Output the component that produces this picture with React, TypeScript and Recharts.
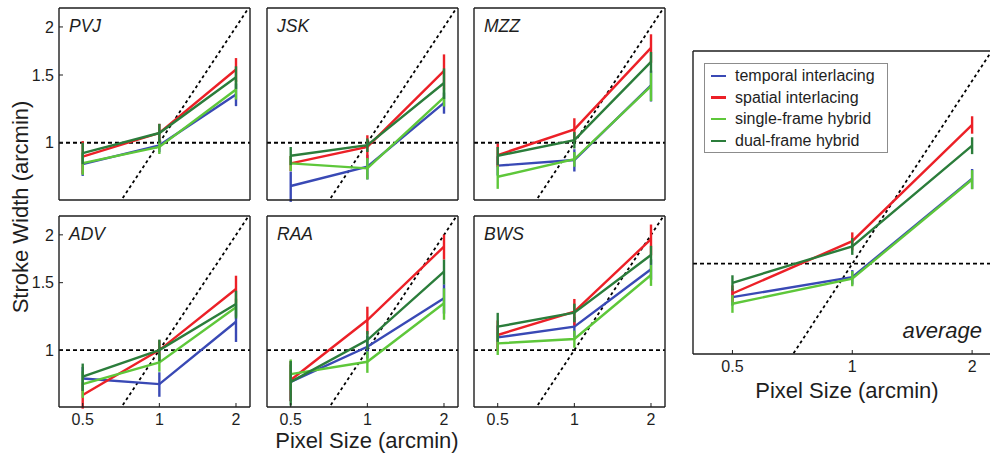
import { ErrorBar, Legend, Line, LineChart, ReferenceLine, XAxis, YAxis } from 'recharts';

const FONT = '"Liberation Sans", Arial, Helvetica, sans-serif';
const INK = '#1e1e1e';

const pixelSizes = [0.5, 1, 2];
const strokeTicks = [1, 1.5, 2];
const seriesNames = ['temporal interlacing', 'spatial interlacing', 'single-frame hybrid', 'dual-frame hybrid'];
const seriesColors = ['#3949b5', '#ec2027', '#5ec73a', '#2b7d3b'];

// rows: temporal, spatial, single-frame, dual-frame; columns: 0.5, 1, 2 arcmin
const pvjMeans = [
  [0.88, 0.985, 1.335],
  [0.92, 1.06, 1.55],
  [0.885, 0.975, 1.375],
  [0.94, 1.06, 1.48],
];
const pvjErrors = [
  [0.06, 0.04, 0.09],
  [0.09, 0.06, 0.11],
  [0.06, 0.04, 0.08],
  [0.06, 0.06, 0.1],
];

const jskMeans = [
  [0.772, 0.867, 1.27],
  [0.884, 0.976, 1.537],
  [0.884, 0.858, 1.312],
  [0.925, 0.986, 1.43],
];
const jskErrors = [
  [0.07, 0.064, 0.08],
  [0.04, 0.07, 0.16],
  [0.04, 0.055, 0.07],
  [0.05, 0.04, 0.13],
];

const mzzMeans = [
  [0.872, 0.902, 1.41],
  [0.929, 1.083, 1.764],
  [0.816, 0.906, 1.403],
  [0.925, 1.016, 1.622],
];
const mzzErrors = [
  [0.05, 0.06, 0.13],
  [0.065, 0.075, 0.15],
  [0.057, 0.04, 0.12],
  [0.05, 0.05, 0.1],
];

const advMeans = [
  [0.843, 0.815, 1.186],
  [0.763, 1.0, 1.444],
  [0.815, 0.928, 1.293],
  [0.852, 1.0, 1.319],
];
const advErrors = [
  [0.06, 0.06, 0.136],
  [0.06, 0.06, 0.12],
  [0.065, 0.05, 0.07],
  [0.07, 0.065, 0.11],
];

const raaMeans = [
  [0.826, 1.02, 1.365],
  [0.835, 1.198, 1.863],
  [0.865, 0.932, 1.325],
  [0.826, 1.062, 1.603],
];
const raaErrors = [
  [0.09, 0.07, 0.12],
  [0.1, 0.1, 0.14],
  [0.08, 0.06, 0.125],
  [0.11, 0.06, 0.12],
];

const bwsMeans = [
  [1.079, 1.151, 1.626],
  [1.095, 1.26, 1.948],
  [1.041, 1.069, 1.571],
  [1.151, 1.252, 1.772],
];
const bwsErrors = [
  [0.08, 0.07, 0.1],
  [0.1, 0.1, 0.18],
  [0.07, 0.055, 0.1],
  [0.1, 0.07, 0.1],
];

const averageMeans = [
  [0.881, 0.95, 1.38],
  [0.893, 1.089, 1.693],
  [0.859, 0.945, 1.376],
  [0.93, 1.068, 1.565],
];
const averageErrors = [
  [0.028, 0.026, 0.052],
  [0.028, 0.037, 0.056],
  [0.029, 0.027, 0.05],
  [0.027, 0.034, 0.05],
];

const SMALL_X_DOMAIN: [number, number] = [0.4035, 2.27];
const AVG_X_DOMAIN: [number, number] = [0.398, 2.27];
const Y_DOMAIN: [number, number] = [0.71, 2.24];

const panels = [
  { title: 'PVJ', means: pvjMeans, errors: pvjErrors, left: 59, top: 8, height: 192, yLabels: true, xLabels: false },
  { title: 'JSK', means: jskMeans, errors: jskErrors, left: 267, top: 8, height: 192, yLabels: false, xLabels: false },
  { title: 'MZZ', means: mzzMeans, errors: mzzErrors, left: 474, top: 8, height: 192, yLabels: false, xLabels: false },
  { title: 'ADV', means: advMeans, errors: advErrors, left: 59, top: 216, height: 191, yLabels: true, xLabels: true },
  { title: 'RAA', means: raaMeans, errors: raaErrors, left: 267, top: 216, height: 191, yLabels: false, xLabels: true },
  { title: 'BWS', means: bwsMeans, errors: bwsErrors, left: 474, top: 216, height: 191, yLabels: false, xLabels: true },
];

const tickText = { fontSize: 16, fill: INK, fontFamily: FONT };
const axisLine = { stroke: INK, strokeWidth: 1.4 };
const tickLine = { stroke: INK, strokeWidth: 1 };

function LegendBox({ payload }: any) {
  const items = [...(payload ?? [])].sort(
    (a: any, b: any) => seriesNames.indexOf(a.value) - seriesNames.indexOf(b.value),
  );
  return (
    <div
      style={{
        border: '1px solid #8c8c8c',
        background: '#fff',
        padding: '1px 6px 0 6px',
        width: 184,
        boxSizing: 'border-box',
        fontFamily: FONT,
        fontSize: 16,
        color: INK,
      }}
    >
      {items.map((p: any) => (
        <div key={p.value} style={{ display: 'flex', alignItems: 'center', height: 21.7 }}>
          <span style={{ display: 'inline-block', width: 15, height: 2.5, background: p.color, marginRight: 9 }} />
          <span>{p.value}</span>
        </div>
      ))}
    </div>
  );
}

interface PanelProps {
  means: number[][];
  errors: number[][];
  left: number;
  top: number;
  width: number;
  height: number;
  xDomain: [number, number];
  yLabels: boolean;
  xLabels: boolean;
  legend?: boolean;
}

function StrokePanel({ means, errors, left, top, width, height, xDomain, yLabels, xLabels, legend }: PanelProps) {
  const pad = 2;
  const yW = yLabels ? 44 : 1;
  const xH = xLabels ? 28 : 1;
  const series = means.map((row, i) => ({
    name: seriesNames[i],
    color: seriesColors[i],
    rows: pixelSizes.map((x, j) => ({ x, y: row[j], e: errors[i][j] })),
  }));

  return (
    <div style={{ position: 'absolute', left: left - yW - pad, top: top - pad - 1 }}>
      <LineChart
        width={yW + width + 1 + pad * 2}
        height={height + xH + 1 + pad * 2}
        margin={{ top: pad, right: pad, bottom: pad, left: pad }}
      >
        <XAxis
          dataKey="x"
          type="number"
          scale="log"
          domain={xDomain}
          allowDataOverflow
          ticks={pixelSizes}
          tickFormatter={(v) => String(v)}
          height={xH}
          tick={xLabels ? tickText : false}
          tickSize={-4}
          tickMargin={11}
          axisLine={axisLine}
          tickLine={tickLine}
        />
        <XAxis
          xAxisId="top"
          orientation="top"
          dataKey="x"
          type="number"
          scale="log"
          domain={xDomain}
          allowDataOverflow
          ticks={pixelSizes}
          height={1}
          tick={false}
          tickSize={-4}
          axisLine={axisLine}
          tickLine={tickLine}
        />
        <YAxis
          type="number"
          scale="log"
          domain={Y_DOMAIN}
          allowDataOverflow
          ticks={strokeTicks}
          tickFormatter={(v) => String(v)}
          width={yW}
          tick={yLabels ? tickText : false}
          tickSize={-4}
          tickMargin={9}
          axisLine={axisLine}
          tickLine={tickLine}
        />
        <YAxis
          yAxisId="right"
          orientation="right"
          type="number"
          scale="log"
          domain={Y_DOMAIN}
          allowDataOverflow
          ticks={strokeTicks}
          width={1}
          tick={false}
          tickSize={-4}
          axisLine={axisLine}
          tickLine={tickLine}
        />
        <ReferenceLine y={1} stroke="#000" strokeWidth={1.8} strokeDasharray="4 3" />
        <ReferenceLine
          segment={[
            { x: 0.6, y: 0.6 },
            { x: 2.6, y: 2.6 },
          ]}
          ifOverflow="hidden"
          stroke="#000"
          strokeWidth={1.8}
          strokeDasharray="3 3"
        />
        {series.map((s) => (
          <Line
            key={s.name}
            data={s.rows}
            dataKey="y"
            name={s.name}
            stroke={s.color}
            strokeWidth={2.4}
            dot={false}
            activeDot={false}
            type="linear"
            isAnimationActive={false}
          >
            <ErrorBar dataKey="e" direction="y" width={0} stroke={s.color} strokeWidth={2.4} isAnimationActive={false} />
          </Line>
        ))}
        {legend && (
          <Legend
            layout="vertical"
            align="center"
            verticalAlign="middle"
            content={LegendBox}
            wrapperStyle={{ left: 14, top: 15, width: 'auto' }}
          />
        )}
      </LineChart>
    </div>
  );
}

const textBase = { position: 'absolute' as const, fontFamily: FONT, color: INK, whiteSpace: 'nowrap' as const };

export default function App() {
  return (
    <div style={{ position: 'absolute', left: 0, top: 0, width: 990, height: 454, background: '#fff', overflow: 'hidden' }}>
      {panels.map((p) => (
        <StrokePanel
          key={p.title}
          means={p.means}
          errors={p.errors}
          left={p.left}
          top={p.top}
          width={191}
          height={p.height}
          xDomain={SMALL_X_DOMAIN}
          yLabels={p.yLabels}
          xLabels={p.xLabels}
        />
      ))}
      {panels.map((p) => (
        <div
          key={`t-${p.title}`}
          style={{ ...textBase, left: p.left + 10, top: p.top + 10, fontSize: 17.5, lineHeight: '17.5px', fontStyle: 'italic' }}
        >
          {p.title}
        </div>
      ))}
      {/* the source figure is cut off on the right, so this panel runs past the page edge */}
      <StrokePanel
        means={averageMeans}
        errors={averageErrors}
        left={693}
        top={51}
        width={301}
        height={303}
        xDomain={AVG_X_DOMAIN}
        yLabels={false}
        xLabels={true}
        legend
      />
      <div
        style={{ ...textBase, left: 882, top: 320, width: 100, textAlign: 'right', fontSize: 22, lineHeight: '22px', fontStyle: 'italic' }}
      >
        average
      </div>
      <div style={{ ...textBase, left: 217, top: 430, width: 300, textAlign: 'center', fontSize: 22, lineHeight: '22px' }}>
        Pixel Size (arcmin)
      </div>
      <div style={{ ...textBase, left: 697, top: 380, width: 300, textAlign: 'center', fontSize: 22, lineHeight: '22px' }}>
        Pixel Size (arcmin)
      </div>
      <div
        style={{
          ...textBase,
          left: 20.5 - 150,
          top: 207 - 11,
          width: 300,
          height: 22,
          textAlign: 'center',
          fontSize: 22,
          lineHeight: '22px',
          transform: 'rotate(-90deg)',
        }}
      >
        Stroke Width (arcmin)
      </div>
    </div>
  );
}
